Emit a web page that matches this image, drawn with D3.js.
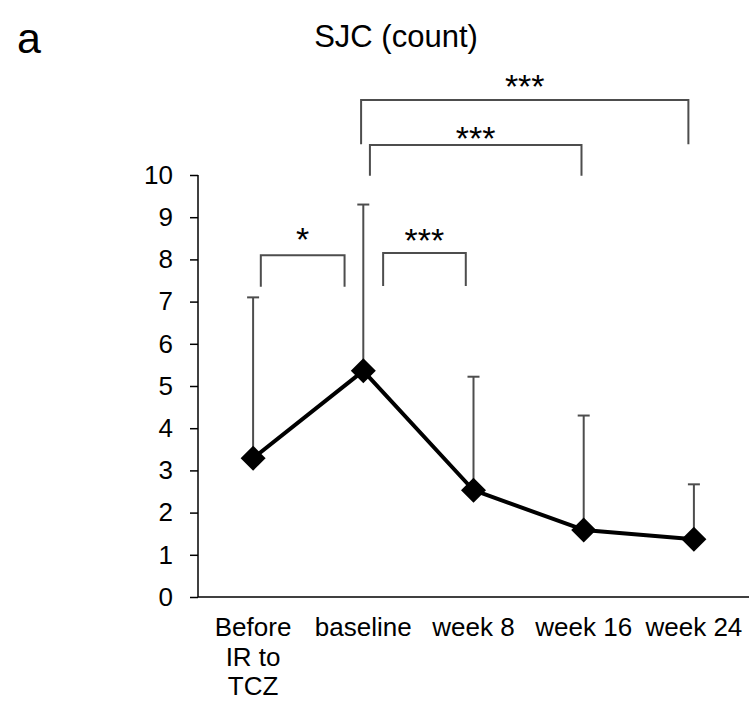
<!DOCTYPE html>
<html>
<head>
<meta charset="utf-8">
<script src="https://cdn.jsdelivr.net/npm/d3@7"></script>
<style>
  body { margin: 0; background: #fff; }
  svg { font-family: "Liberation Sans", Arial, sans-serif; }
</style>
</head>
<body>
<div class="chart"></div>
<script>
// values
const categories = ['Before IR to TCZ', 'baseline', 'week 8', 'week 16', 'week 24'];
const catLines = [['Before', 'IR to', 'TCZ'], ['baseline'], ['week 8'], ['week 16'], ['week 24']];
const means = [3.29, 5.36, 2.53, 1.59, 1.37];
const upperErr = [7.1, 9.3, 5.22, 4.3, 2.67];
const yTicks = [0, 1, 2, 3, 4, 5, 6, 7, 8, 9, 10];

// significance brackets: x in category-index units, y in data units
const bracketFrom = [0.07, 1.18, 1.06, 0.98];
const bracketTo = [0.83, 1.93, 2.98, 3.95];
const bracketTop = [8.1, 8.15, 10.71, 11.78];
const bracketBottom = [7.35, 7.37, 9.98, 10.73];
const bracketLabelY = [8.65, 8.63, 11.04, 12.27];
const bracketLabel = ['*', '***', '***', '***'];

const w = 751, h = 701;
const margin = {left: 198, right: 2, top: 175, bottom: 104};

const svg = d3.select('.chart')
  .append('svg')
  .attr('width', w)
  .attr('height', h);

const x = d3.scaleBand()
  .domain(categories)
  .range([margin.left, w - margin.right]);

const y = d3.scaleLinear()
  .domain([0, 10])
  .range([h - margin.bottom, margin.top]);

const cx = c => x(c) + x.bandwidth() / 2;
// index scale for bracket ends
const xi = d3.scaleLinear()
  .domain([0, categories.length - 1])
  .range([cx(categories[0]), cx(categories[categories.length - 1])]);

// panel letter + title
svg.append('text')
  .attr('x', 17)
  .attr('y', 53)
  .style('font-size', '43px')
  .text('a');

svg.append('text')
  .attr('x', 396)
  .attr('y', 47)
  .attr('text-anchor', 'middle')
  .style('font-size', '31px')
  .text('SJC (count)');

// y axis
const yAxis = d3.axisLeft(y)
  .tickValues(yTicks)
  .tickSize(8)
  .tickPadding(17)
  .tickFormat(d3.format('d'));

const gy = svg.append('g')
  .attr('transform', `translate(${margin.left},0)`)
  .call(yAxis);
gy.select('.domain').attr('stroke', '#000').attr('stroke-width', 1.5).attr('d', `M0,${y(10)}V${y(0)}`);
gy.selectAll('.tick line').attr('stroke', '#000').attr('stroke-width', 1.5);
gy.selectAll('.tick text')
  .attr('fill', '#000')
  .style('font-size', '26px')
  .style('font-family', '"Liberation Sans", Arial, sans-serif');

// x axis line
svg.append('line')
  .attr('x1', margin.left)
  .attr('x2', w - margin.right)
  .attr('y1', y(0))
  .attr('y2', y(0))
  .attr('stroke', '#000')
  .attr('stroke-width', 1.5);

// x labels (wrapped like the original)
const xl = svg.append('g')
  .selectAll('text')
  .data(categories)
  .enter()
  .append('text')
  .attr('text-anchor', 'middle')
  .style('font-size', '26px')
  .attr('y', y(0) + 39);

xl.each(function(d, i) {
  d3.select(this).selectAll('tspan')
    .data(catLines[i])
    .enter()
    .append('tspan')
    .attr('x', cx(d))
    .attr('dy', (t, j) => j === 0 ? 0 : 29.5)
    .text(t => t);
});

// error bars (upper only)
const eb = svg.append('g')
  .attr('stroke', '#4d4d4d')
  .attr('stroke-width', 2);

eb.selectAll('line.v')
  .data(categories)
  .enter()
  .append('line')
  .attr('class', 'v')
  .attr('x1', d => cx(d))
  .attr('x2', d => cx(d))
  .attr('y1', (d, i) => y(means[i]))
  .attr('y2', (d, i) => y(upperErr[i]));

eb.selectAll('line.cap')
  .data(categories)
  .enter()
  .append('line')
  .attr('class', 'cap')
  .attr('x1', d => cx(d) - 6)
  .attr('x2', d => cx(d) + 6)
  .attr('y1', (d, i) => y(upperErr[i]))
  .attr('y2', (d, i) => y(upperErr[i]));

// mean line
const line = d3.line()
  .x(d => cx(d))
  .y((d, i) => y(means[i]));

svg.append('path')
  .datum(categories)
  .attr('d', line)
  .attr('fill', 'none')
  .attr('stroke', '#000')
  .attr('stroke-width', 4)
  .attr('stroke-linejoin', 'round');

// diamond markers
const r = 12.5;
svg.selectAll('path.marker')
  .data(categories)
  .enter()
  .append('path')
  .attr('class', 'marker')
  .attr('d', (d, i) => {
    const px = cx(d), py = y(means[i]);
    return `M${px},${py - r}L${px + r},${py}L${px},${py + r}L${px - r},${py}Z`;
  })
  .attr('fill', '#000');

// significance brackets
const br = svg.append('g');
br.selectAll('path')
  .data(bracketLabel)
  .enter()
  .append('path')
  .attr('d', (d, i) => {
    const x0 = xi(bracketFrom[i]), x1 = xi(bracketTo[i]);
    return `M${x0},${y(bracketBottom[i])}V${y(bracketTop[i])}H${x1}V${y(bracketBottom[i])}`;
  })
  .attr('fill', 'none')
  .attr('stroke', '#4d4d4d')
  .attr('stroke-width', 2);

br.selectAll('text')
  .data(bracketLabel)
  .enter()
  .append('text')
  .attr('text-anchor', 'middle')
  .attr('x', (d, i) => (xi(bracketFrom[i]) + xi(bracketTo[i])) / 2)
  .attr('y', (d, i) => y(bracketLabelY[i]) + 19)
  .style('font-size', '34px')
  .text(d => d);
</script>
</body>
</html>
